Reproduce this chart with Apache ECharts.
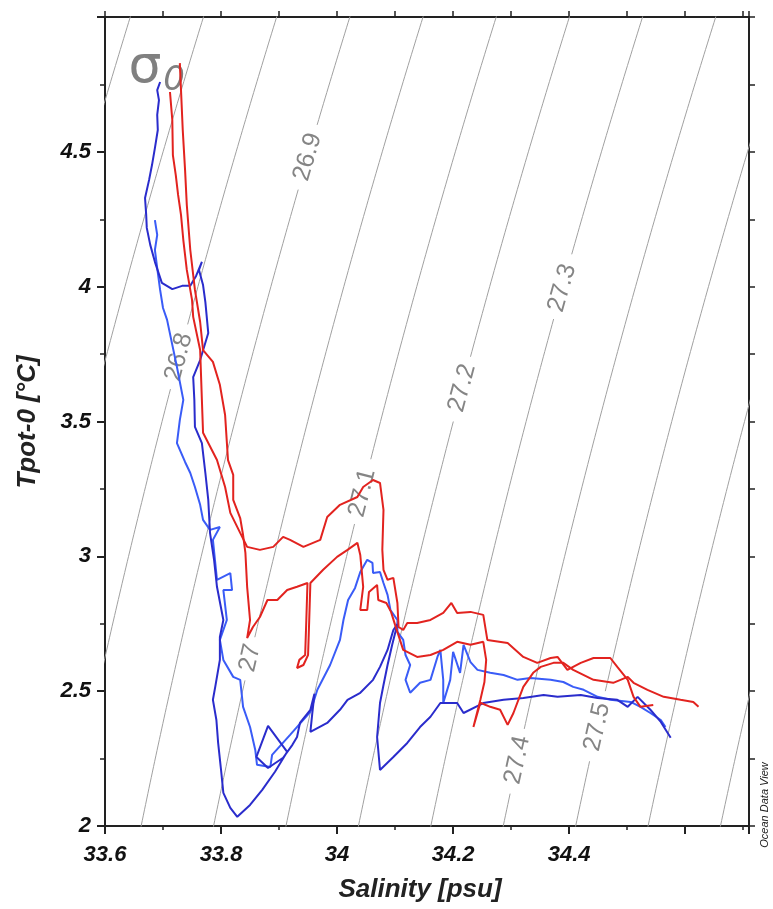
<!DOCTYPE html>
<html><head><meta charset="utf-8">
<script src="https://cdn.jsdelivr.net/npm/echarts@6/dist/echarts.min.js"></script>
<style>html,body{margin:0;padding:0;background:#fff}#c{width:773px;height:909px}</style>
</head><body><div id="c"></div>
<script>
// ---------- data ----------
const salRange = [33.6, 34.71];
const tempRange = [2, 5];
const xTickLabels = ['33.6','33.8','34','34.2','34.4'];
const yTickLabels = ['2','2.5','3','3.5','4','4.5'];
const sigmaLevels = [26.6,26.7,26.8,26.9,27.0,27.1,27.2,27.3,27.4,27.5,27.6,27.7];
const sigmaLabelLevels = [26.8,26.9,27.0,27.1,27.2,27.3,27.4,27.5];
const sigmaLabelText = ['26.8','26.9','27','27.1','27.2','27.3','27.4','27.5'];
const sigmaLabelTemp = [3.739,4.481,2.623,3.235,3.624,3.995,2.245,2.367];

const redA_sal = [33.729,33.731,33.734,33.738,33.741,33.747,33.755,33.764,33.769,33.786,33.798,33.807,33.812,33.821,33.821,33.833,33.838,33.842,33.845,33.850,33.845,33.855,33.867,33.880,33.897,33.914,33.931,33.949,33.947,33.945,33.935,33.931,33.942,33.950,33.952,33.954,33.976,34.000,34.018,34.035,34.040,34.045,34.040,34.052,34.055,34.069,34.071,34.085,34.093,34.100,34.114,34.138,34.161,34.183,34.207,34.230,34.252,34.257,34.254,34.247,34.235,34.247,34.264,34.281,34.294,34.304,34.321,34.338,34.351,34.373,34.390,34.407,34.442,34.476,34.501,34.511,34.535,34.563,34.592,34.614,34.623];
const redA_temp = [4.829,4.729,4.581,4.433,4.303,4.136,3.988,3.869,3.765,3.721,3.636,3.524,3.357,3.302,3.209,3.142,3.079,3.013,2.887,2.764,2.697,2.738,2.775,2.838,2.838,2.875,2.887,2.901,2.764,2.634,2.616,2.586,2.597,2.634,2.764,2.901,2.950,2.998,3.024,3.050,3.005,2.887,2.801,2.801,2.868,2.894,2.838,2.827,2.794,2.746,2.653,2.627,2.634,2.653,2.683,2.672,2.683,2.616,2.534,2.468,2.367,2.457,2.442,2.431,2.375,2.419,2.516,2.568,2.590,2.605,2.605,2.579,2.542,2.531,2.553,2.531,2.505,2.479,2.468,2.460,2.442];

const redB_sal = [33.712,33.716,33.717,33.722,33.726,33.731,33.735,33.741,33.750,33.752,33.764,33.767,33.769,33.793,33.807,33.816,33.833,33.845,33.867,33.890,33.907,33.919,33.942,33.971,33.983,34.005,34.035,34.045,34.062,34.074,34.080,34.078,34.080,34.087,34.097,34.104,34.106,34.114,34.121,34.138,34.161,34.183,34.197,34.207,34.230,34.252,34.259,34.294,34.321,34.345,34.368,34.380,34.397,34.420,34.442,34.471,34.483,34.501,34.511,34.523,34.545];
const redB_temp = [4.722,4.618,4.488,4.414,4.340,4.266,4.173,4.062,3.951,3.888,3.765,3.580,3.458,3.357,3.257,3.161,3.087,3.035,3.024,3.035,3.072,3.061,3.035,3.061,3.146,3.191,3.220,3.257,3.283,3.272,3.172,3.024,2.950,2.913,2.920,2.827,2.738,2.727,2.753,2.753,2.764,2.790,2.827,2.790,2.794,2.783,2.690,2.679,2.627,2.605,2.623,2.627,2.579,2.605,2.623,2.623,2.590,2.542,2.479,2.442,2.449];

const blueD_sal = [33.695,33.690,33.693,33.690,33.691,33.686,33.681,33.676,33.669,33.671,33.672,33.678,33.686,33.698,33.716,33.733,33.747,33.757,33.767,33.762,33.769,33.773,33.778,33.764,33.752,33.754,33.755,33.767,33.773,33.778,33.781,33.788,33.793,33.804,33.798,33.798,33.790,33.786,33.792,33.795,33.800,33.804,33.816,33.828,33.850,33.871,33.893,33.914,33.881,33.861,33.881,33.907,33.923,33.931,33.936,33.954,33.961,33.957,33.954,33.983,34.005,34.018,34.040,34.062,34.074,34.087,34.097,34.104,34.095,34.087,34.080,34.074,34.069,34.074,34.097,34.121,34.143,34.161,34.178,34.207,34.218,34.252,34.287,34.321,34.356,34.380,34.420,34.449,34.483,34.501,34.518,34.540,34.558,34.575];
const blueD_temp = [4.759,4.729,4.692,4.637,4.581,4.514,4.451,4.396,4.329,4.266,4.218,4.155,4.092,4.014,3.991,4.003,4.003,4.040,4.092,4.062,4.006,3.943,3.828,3.728,3.665,3.580,3.480,3.420,3.309,3.209,3.087,2.987,2.887,2.764,2.701,2.616,2.516,2.468,2.393,2.308,2.208,2.123,2.067,2.034,2.078,2.134,2.201,2.275,2.371,2.256,2.215,2.253,2.301,2.330,2.382,2.431,2.490,2.412,2.349,2.382,2.431,2.468,2.494,2.542,2.590,2.653,2.727,2.749,2.672,2.597,2.523,2.456,2.330,2.208,2.256,2.308,2.367,2.405,2.456,2.456,2.419,2.456,2.468,2.475,2.486,2.479,2.486,2.475,2.468,2.442,2.479,2.431,2.386,2.327];

const blueL_sal = [33.686,33.690,33.686,33.690,33.695,33.700,33.707,33.716,33.724,33.735,33.729,33.724,33.738,33.747,33.755,33.764,33.769,33.781,33.798,33.786,33.793,33.816,33.819,33.804,33.810,33.798,33.804,33.821,33.833,33.838,33.850,33.859,33.862,33.885,33.888,33.919,33.954,33.966,33.988,34.005,34.011,34.019,34.031,34.040,34.052,34.061,34.062,34.074,34.080,34.087,34.092,34.104,34.104,34.114,34.118,34.126,34.118,34.126,34.143,34.161,34.173,34.178,34.183,34.183,34.195,34.200,34.212,34.218,34.230,34.242,34.264,34.287,34.311,34.333,34.368,34.390,34.407,34.425,34.449,34.471,34.506,34.523,34.540,34.558,34.566];
const blueL_temp = [4.247,4.192,4.136,4.069,3.988,3.921,3.877,3.784,3.702,3.580,3.506,3.420,3.350,3.309,3.257,3.191,3.135,3.098,3.109,3.061,2.913,2.938,2.875,2.875,2.764,2.690,2.616,2.553,2.542,2.442,2.367,2.282,2.227,2.219,2.264,2.338,2.423,2.505,2.597,2.690,2.764,2.838,2.883,2.942,2.987,2.976,2.938,2.942,2.901,2.857,2.801,2.764,2.720,2.690,2.634,2.597,2.542,2.494,2.531,2.542,2.627,2.653,2.542,2.456,2.542,2.646,2.568,2.672,2.608,2.579,2.568,2.560,2.542,2.549,2.542,2.534,2.516,2.505,2.479,2.468,2.460,2.442,2.419,2.393,2.367];

// ---------- helpers ----------
const GRID = {left:105, right:24, top:17, bottom:83};
const W = 773, H = 909;
const pxS = (W - GRID.left - GRID.right) / (salRange[1] - salRange[0]);
const pxT = (H - GRID.top - GRID.bottom) / (tempRange[1] - tempRange[0]);

function zip(a, b){ const n = Math.min(a.length, b.length); const r=[]; for(let i=0;i<n;i++) r.push([a[i], b[i]]); return r; }
// UNESCO EOS-80 one-atmosphere density anomaly
function sigma0(S, T){
  const rw = 999.842594 + 6.793952e-2*T - 9.095290e-3*T*T + 1.001685e-4*T**3 - 1.120083e-6*T**4 + 6.536332e-9*T**5;
  const A = 0.824493 - 4.0899e-3*T + 7.6438e-5*T*T - 8.2467e-7*T**3 + 5.3875e-9*T**4;
  const B = -5.72466e-3 + 1.0227e-4*T - 1.6546e-6*T*T;
  const C = 4.8314e-4;
  return rw + A*S + B*Math.pow(S,1.5) + C*S*S - 1000;
}
function salAt(sig, T){ let lo=30, hi=38; for(let i=0;i<60;i++){ const m=(lo+hi)/2; if(sigma0(m,T)<sig) lo=m; else hi=m; } return (lo+hi)/2; }

const series = [];
const labelData = [];
const LABEL_FS = 25;
sigmaLevels.forEach(function(lev){
  const pts = [];
  for (let k=0; k<=170; k++){ const T = 1.9 + k*0.02; pts.push([salAt(lev,T), T]); }
  const li = sigmaLabelLevels.findIndex(v => Math.abs(v-lev) < 1e-6);
  let segs = [pts];
  if (li >= 0){
    const Tl = sigmaLabelTemp[li], Sl = salAt(lev, Tl), txt = sigmaLabelText[li];
    const r = txt.length*0.55*LABEL_FS/2 + 4;
    segs = []; let cur = [];
    pts.forEach(function(p){
      const d = Math.hypot((p[0]-Sl)*pxS, (p[1]-Tl)*pxT);
      if (d < r){ if (cur.length) { segs.push(cur); cur = []; } }
      else cur.push(p);
    });
    if (cur.length) segs.push(cur);
    const S1 = salAt(lev, Tl-0.05), S2 = salAt(lev, Tl+0.05);
    const rot = Math.atan2(0.1*pxT, (S2-S1)*pxS) * 180 / Math.PI;
    labelData.push({value:[Sl, Tl], label:{rotate: rot, formatter: txt}});
  }
  segs.forEach(function(s){
    series.push({type:'line', data:s, showSymbol:false, symbol:'none', silent:true, z:1,
      lineStyle:{color:'#a0a0a0', width:1}, animation:false});
  });
});
series.push({type:'scatter', data:labelData, symbolSize:1, silent:true, z:2,
  itemStyle:{color:'rgba(0,0,0,0)'},
  label:{show:true, position:'inside', color:'#666666', fontSize:LABEL_FS, fontFamily:'Liberation Sans, Arial, sans-serif', align:'center', verticalAlign:'middle'},
  animation:false});

function prof(sal, temp, color){
  return {type:'line', data:zip(sal,temp), showSymbol:false, symbol:'none', silent:true, z:3,
    lineStyle:{color:color, width:2}, animation:false};
}
series.push(prof(blueL_sal, blueL_temp, '#3a5cf7'));
series.push(prof(blueD_sal, blueD_temp, '#2a2ccc'));
series.push(prof(redB_sal, redB_temp, '#e2231f'));
series.push(prof(redA_sal, redA_temp, '#e2231f'));

const axisFont = {fontFamily:'Liberation Sans, Arial, sans-serif', fontWeight:'bold', fontStyle:'italic', fontSize:22, color:'#111'};
const axLine = {show:true, lineStyle:{color:'#222', width:2}};

const chart = echarts.init(document.getElementById('c'), null, {renderer:'canvas'});
chart.setOption({
  backgroundColor:'#fff',
  animation:false,
  grid:{left:GRID.left, right:GRID.right, top:GRID.top, bottom:GRID.bottom, containLabel:false},
  xAxis:[
    {type:'value', position:'bottom', min:salRange[0], max:salRange[1], interval:0.2,
     axisLine:axLine, splitLine:{show:false},
     axisTick:{show:true, length:8, lineStyle:{color:'#222', width:2}},
     minorTick:{show:true, splitNumber:2, length:4, lineStyle:{color:'#222', width:1.5}},
     axisLabel:Object.assign({margin:18, formatter:function(v){ const s = String(parseFloat(v.toFixed(1))); return xTickLabels.indexOf(s)>=0 ? s : ''; }}, axisFont)},
    {type:'value', position:'top', min:salRange[0], max:salRange[1], interval:0.1,
     axisLine:axLine, splitLine:{show:false},
     axisTick:{show:true, length:6, lineStyle:{color:'#222', width:1.5}},
     axisLabel:{show:false}}
  ],
  yAxis:[
    {type:'value', position:'left', min:tempRange[0], max:tempRange[1], interval:0.5,
     axisLine:axLine, splitLine:{show:false},
     axisTick:{show:true, length:8, lineStyle:{color:'#222', width:2}},
     minorTick:{show:true, splitNumber:2, length:5, lineStyle:{color:'#222', width:1.5}},
     axisLabel:Object.assign({margin:14, formatter:function(v){ const s = String(parseFloat(v.toFixed(2))); return yTickLabels.indexOf(s)>=0 ? s : ''; }}, axisFont)},
    {type:'value', position:'right', min:tempRange[0], max:tempRange[1], interval:0.25,
     axisLine:axLine, splitLine:{show:false},
     axisTick:{show:true, length:6, lineStyle:{color:'#222', width:1.5}},
     axisLabel:{show:false}}
  ],
  graphic:[
    {type:'text', x:420, y:890, silent:true,
     style:{text:'Salinity [psu]', font:'italic bold 26px "Liberation Sans", Arial, sans-serif', fill:'#222', textAlign:'center', textVerticalAlign:'middle', align:'center', verticalAlign:'middle'}},
    {type:'text', x:28, y:422, rotation:Math.PI/2, silent:true,
     style:{text:'Tpot-0 [°C]', font:'italic bold 26px "Liberation Sans", Arial, sans-serif', fill:'#222', textAlign:'center', textVerticalAlign:'middle', align:'center', verticalAlign:'middle'}},
    {type:'text', x:145, y:68, silent:true,
     style:{text:'σ', font:'52px "DejaVu Sans", sans-serif', fill:'#808080', textAlign:'center', textVerticalAlign:'middle', align:'center', verticalAlign:'middle'}},
    {type:'text', x:174, y:81, silent:true,
     style:{text:'0', font:'italic 34px "DejaVu Sans", sans-serif', fill:'#808080', textAlign:'center', textVerticalAlign:'middle', align:'center', verticalAlign:'middle'}},
    {type:'text', x:765, y:805, rotation:Math.PI/2, silent:true,
     style:{text:'Ocean Data View', font:'italic 11px "Liberation Sans", Arial, sans-serif', fill:'#222', textAlign:'center', textVerticalAlign:'middle', align:'center', verticalAlign:'middle'}}
  ],
  series:series
});
</script></body></html>
